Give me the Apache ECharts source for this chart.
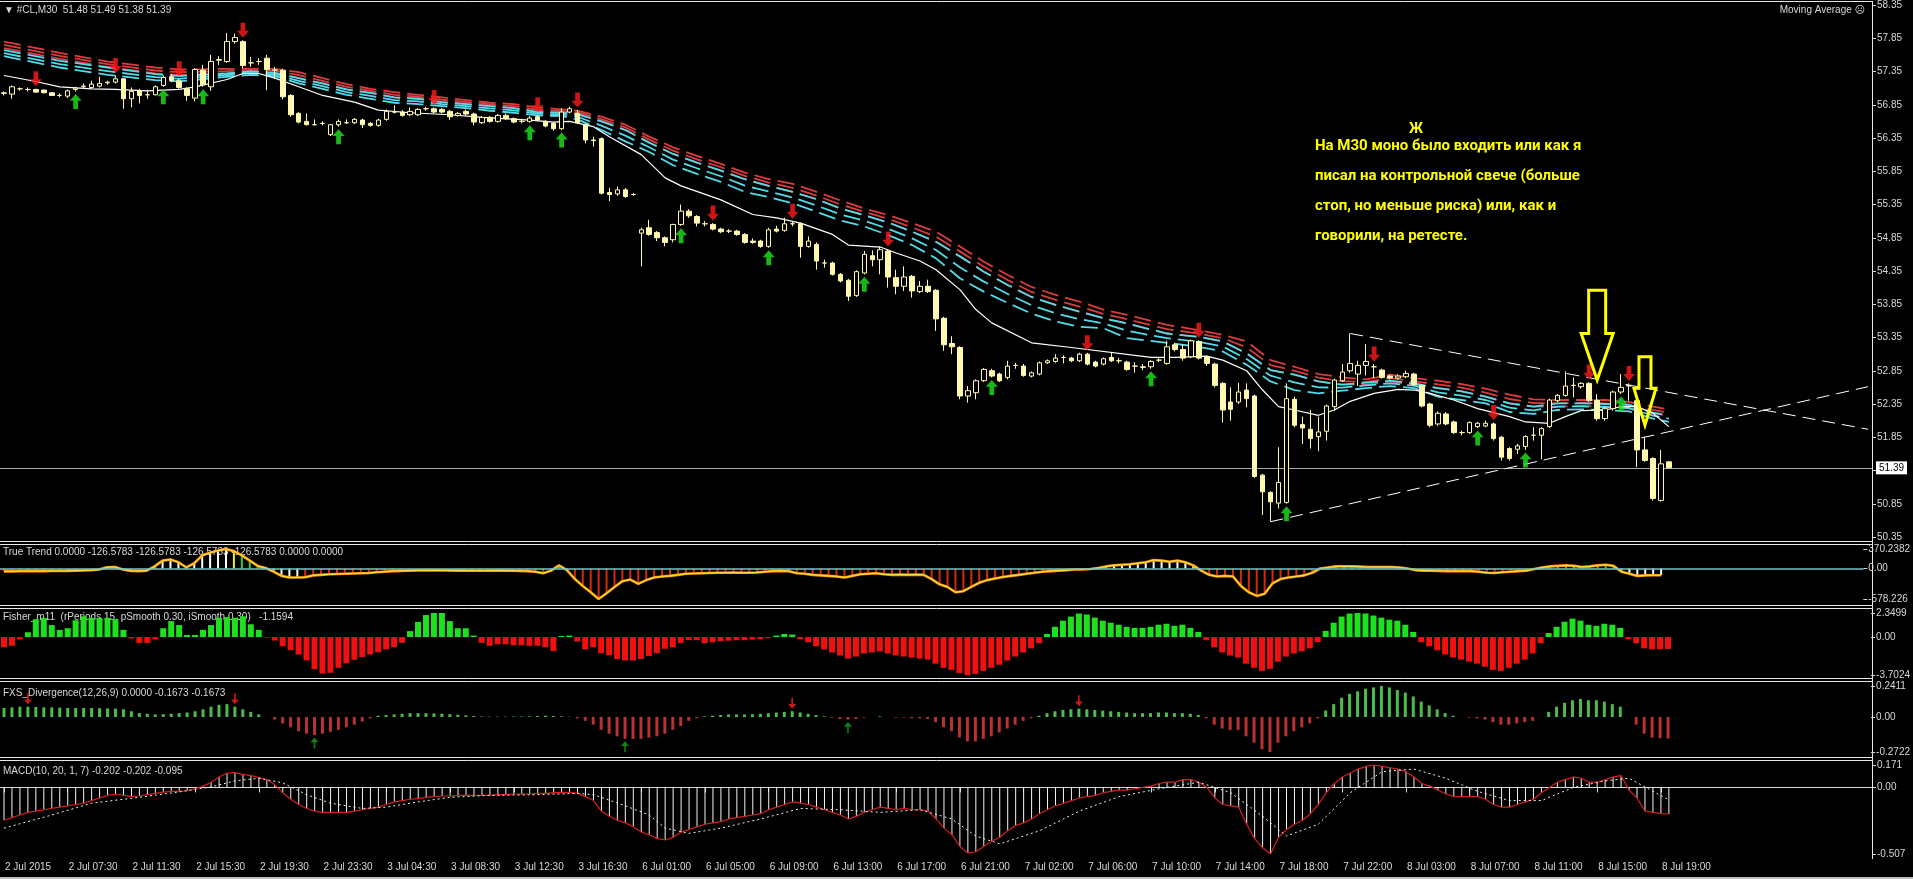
<!DOCTYPE html>
<html>
<head>
<meta charset="utf-8">
<title>#CL,M30</title>
<script src="https://cdn.jsdelivr.net/npm/echarts@6/dist/echarts.min.js"></script>
<style>
html,body{margin:0;padding:0;background:#000;overflow:hidden;}
#chart{width:1913px;height:879px;}
</style>
</head>
<body>
<div id="chart"></div>
<script>
// ---------------- DATA ----------------
const timeLabels = ['2 Jul 2015','2 Jul 07:30','2 Jul 11:30','2 Jul 15:30','2 Jul 19:30','2 Jul 23:30','3 Jul 04:30','3 Jul 08:30','3 Jul 12:30','3 Jul 16:30','6 Jul 01:00','6 Jul 05:00','6 Jul 09:00','6 Jul 13:00','6 Jul 17:00','6 Jul 21:00','7 Jul 02:00','7 Jul 06:00','7 Jul 10:00','7 Jul 14:00','7 Jul 18:00','7 Jul 22:00','8 Jul 03:00','8 Jul 07:00','8 Jul 11:00','8 Jul 15:00','8 Jul 19:00'];
const priceTickLabels = ['50.35','50.85','51.35','51.85','52.35','52.85','53.35','53.85','54.35','54.85','55.35','55.85','56.35','56.85','57.35','57.85','58.35'];

const openP = [
57.02,57.01,57.09,57.08,57.08,57.07,57.03,56.99,56.98,57.08,
57.12,57.11,57.13,57.18,57.19,57.24,56.94,57.06,57.00,57.00,
57.14,57.27,57.21,57.09,56.95,57.37,57.12,57.52,57.50,57.80,
57.80,57.48,57.50,57.55,57.37,57.37,56.99,56.72,56.60,56.55,
56.57,56.40,56.55,56.58,56.58,56.62,56.57,56.54,56.63,56.74,
56.74,56.70,56.70,56.79,56.79,56.78,56.75,56.69,56.75,56.71,
56.58,56.66,56.60,56.69,56.64,56.60,56.60,56.67,56.60,56.57,
56.49,56.74,56.72,56.55,56.32,56.34,55.53,55.51,55.57,55.50,
54.92,55.00,54.93,54.85,54.82,55.05,55.25,55.17,55.06,55.05,
54.98,54.95,54.95,54.90,54.80,54.80,54.72,54.98,54.96,55.06,
55.06,54.72,54.75,54.47,54.47,54.30,54.21,53.98,54.32,54.58,
54.52,54.65,54.25,54.12,54.27,54.04,54.12,54.06,53.64,53.26,
53.20,52.47,52.52,52.70,52.85,52.80,52.75,52.93,52.92,52.77,
52.80,52.97,52.99,53.05,53.04,53.00,53.10,52.98,52.95,53.05,
53.00,52.98,52.92,52.90,
52.91,53.01,52.96,53.24,53.17,53.06,53.29,
53.06,52.95,52.66,52.38,52.38,52.56,52.47,51.28,51.02,50.86,
50.87,52.42,52.04,51.97,51.86,51.94,52.31,52.70,52.85,52.80,
52.93,52.91,52.86,52.77,52.74,52.76,52.80,52.63,52.35,52.05,
52.20,52.08,51.92,51.92,52.01,52.02,52.05,51.85,51.68,51.67,
51.71,51.88,51.88,52.01,52.40,52.48,52.63,52.61,52.66,52.41,
52.13,52.28,52.53,52.62,52.40,51.66,51.53,50.90,51.48];
const highP = [
57.05,57.14,57.11,57.11,57.09,57.08,57.04,57.02,57.08,57.12,
57.17,57.21,57.27,57.21,57.29,57.25,57.11,57.09,57.07,57.14,
57.29,57.31,57.24,57.11,57.40,57.45,57.60,57.58,57.93,57.92,
57.82,57.57,57.55,57.60,57.42,57.39,57.01,56.74,56.72,56.63,
56.60,56.56,56.63,56.63,56.65,56.64,56.59,56.64,56.78,56.84,
56.77,56.81,56.80,56.82,56.81,56.80,56.77,56.74,56.78,56.73,
56.68,56.68,56.71,56.72,56.66,56.64,56.68,56.70,56.62,56.59,
56.80,56.82,56.77,56.57,56.37,56.36,55.60,55.62,55.60,55.52,
55.00,55.12,54.95,54.87,55.06,55.35,55.28,55.19,55.10,55.07,
55.00,54.98,54.97,54.92,54.84,54.82,55.00,55.03,55.15,55.10,
55.08,54.87,54.78,54.52,54.49,54.32,54.23,54.36,54.65,54.66,
54.72,54.68,54.37,54.42,54.29,54.20,54.22,54.08,53.66,53.37,
53.22,52.62,52.72,52.89,52.88,52.82,53.00,52.97,52.95,52.84,
52.99,53.02,53.10,53.08,53.06,53.12,53.12,53.00,53.05,53.12,
53.04,53.00,52.98,52.95,
53.01,53.04,53.30,53.27,53.25,53.32,53.31,
53.08,52.97,52.68,52.60,52.67,52.66,52.49,51.30,51.04,51.70,
52.66,52.46,52.16,52.26,52.16,52.34,52.73,52.95,53.41,53.00,
53.25,52.95,52.88,52.79,52.80,52.85,52.82,52.65,52.37,52.24,
52.23,52.10,51.95,52.09,52.08,52.10,52.07,51.87,51.70,51.75,
51.88,52.00,52.00,52.43,52.50,52.84,52.75,52.68,52.68,52.50,
52.31,52.55,52.80,52.66,52.42,51.86,51.55,51.66,51.49];
const lowP = [
56.99,56.94,57.06,57.05,57.03,57.02,56.98,56.96,56.95,57.05,
57.09,57.09,57.11,57.15,57.17,56.79,56.81,56.87,56.94,56.99,
57.12,57.19,57.09,56.91,56.90,57.12,57.06,57.45,57.48,57.77,
57.40,57.42,57.45,57.07,57.24,56.93,56.67,56.57,56.54,56.54,
56.54,56.38,56.52,56.56,56.56,56.50,56.52,56.52,56.61,56.72,
56.67,56.68,56.68,56.76,56.72,56.72,56.62,56.67,56.69,56.54,
56.56,56.58,56.58,56.62,56.57,56.57,56.58,56.60,56.51,56.46,
56.47,56.72,56.56,56.27,56.22,55.50,55.40,55.48,55.45,55.48,
54.42,54.88,54.80,54.72,54.78,55.03,55.15,55.02,55.02,54.96,
54.92,54.92,54.88,54.76,54.76,54.70,54.70,54.93,54.94,55.02,
54.55,54.70,54.37,54.40,54.28,54.18,53.90,53.96,54.30,54.42,
54.30,54.10,54.00,54.05,53.95,54.02,54.02,53.45,53.15,53.10,
52.42,52.37,52.42,52.68,52.75,52.68,52.72,52.88,52.76,52.75,
52.78,52.95,52.97,52.96,52.98,52.98,52.93,52.90,52.93,52.98,
52.96,52.85,52.82,52.86,
52.88,52.98,52.94,53.14,53.00,53.04,53.02,
52.92,52.60,52.07,52.10,52.35,52.30,51.24,50.68,50.58,50.78,
50.85,52.00,51.75,51.68,51.64,51.80,52.25,52.68,52.82,52.62,
52.78,52.74,52.73,52.72,52.72,52.74,52.62,52.30,52.00,52.02,
52.03,51.90,51.88,51.90,51.99,52.00,51.80,51.50,51.50,51.60,
51.66,51.80,51.52,51.99,52.38,52.46,52.45,52.58,52.38,52.10,
52.10,52.25,52.50,52.40,51.40,51.48,50.90,50.88,51.38];
const closeP = [
57.03,57.12,57.09,57.08,57.04,57.03,56.99,56.99,57.06,57.10,
57.13,57.16,57.17,57.19,57.24,56.94,57.05,56.99,57.00,57.12,
57.26,57.21,57.11,56.99,57.38,57.15,57.50,57.53,57.80,57.86,
57.44,57.48,57.50,57.38,57.37,56.97,56.70,56.59,56.55,56.55,
56.57,56.55,56.60,56.58,56.63,56.55,56.54,56.62,56.75,56.74,
56.69,56.75,56.78,56.79,56.74,56.74,56.67,56.72,56.71,56.59,
56.66,56.60,56.69,56.64,56.59,56.60,56.65,56.62,56.53,56.49,
56.74,56.79,56.58,56.32,56.31,55.52,55.50,55.57,55.47,55.50,
54.97,54.90,54.85,54.78,55.05,55.25,55.18,55.07,55.06,54.98,
54.94,54.95,54.90,54.78,54.78,54.72,54.97,54.95,55.06,55.06,
54.72,54.80,54.50,54.47,54.30,54.20,53.97,54.34,54.60,54.52,
54.67,54.26,54.12,54.26,54.05,54.12,54.04,53.63,53.24,53.21,
52.47,52.55,52.70,52.87,52.77,52.70,52.92,52.93,52.78,52.82,
52.97,53.00,53.04,53.05,53.00,53.10,52.95,52.92,53.03,53.00,
53.00,52.87,52.92,52.91,
52.99,53.01,53.21,53.17,53.04,53.30,53.04,
52.96,52.63,52.26,52.27,52.53,52.43,51.26,51.03,50.88,51.17,
52.43,52.03,51.99,51.83,51.93,52.32,52.71,52.83,52.96,52.93,
52.99,52.91,52.75,52.74,52.77,52.81,52.64,52.32,52.03,52.21,
52.05,51.92,51.92,52.07,52.06,52.06,51.83,51.55,51.53,51.72,
51.86,51.88,51.98,52.41,52.48,52.62,52.63,52.66,52.40,52.13,
52.28,52.53,52.60,52.63,51.66,51.50,50.93,51.45,51.39];

// fast moving average (white), read points [bar, price]
const maPoints = [[0,57.29],[4,57.2],[7,57.12],[11,57.09],[14,57.08],[18,57.06],[22,57.08],[24,57.12],[28,57.23],[30,57.32],[32,57.32],[34,57.25],[37,57.12],[40,56.99],[44,56.89],[47,56.77],[51,56.73],[56,56.70],[60,56.66],[66,56.62],[69,56.59],[71,56.6],[74,56.52],[76,56.37],[80,56.10],[83,55.75],[85,55.63],[90,55.42],[94,55.2],[97,55.15],[100,55.07],[104,54.9],[106,54.74],[110,54.71],[112,54.62],[115,54.5],[117,54.37],[120,54.07],[122,53.77],[124,53.57],[129,53.27],[134,53.2],[144,53.05],[147,53.05],[151,53.07],[153,53.01],[156,52.85],[158,52.56],[160,52.31],[162,52.26],[165,52.18],[167,52.26],[169,52.39],[172,52.51],[175,52.57],[177,52.56],[179,52.51],[182,52.41],[185,52.28],[189,52.16],[191,52.08],[194,52.06],[196,52.16],[198,52.25],[201,52.26],[203,52.31],[205,52.31],[207,52.21],[209,52.01]];

// moving-average ribbon (red group above, cyan group below), read per segment
const ribbonBars = [0,7,13,19,22,28,31,34,37,40,43,46,49,52,55,58,61,64,67,70,72,75,78,81,84,87,90,93,96,99,102,105,108,111,114,117,120,123,126,129,132,135,138,141,146,150,153,156,159,162,165,168,171,174,177,180,183,186,189,192,195,198,201,204,207,209];
const ribbonRedTop = [57.80,57.63,57.50,57.41,57.38,57.39,57.39,57.39,57.34,57.25,57.16,57.09,57.04,57.00,56.96,56.92,56.88,56.86,56.81,56.78,56.76,56.67,56.55,56.37,56.21,56.08,55.96,55.83,55.73,55.66,55.54,55.41,55.29,55.19,55.07,54.94,54.72,54.49,54.29,54.11,53.99,53.89,53.77,53.69,53.54,53.46,53.39,53.29,53.01,52.91,52.80,52.75,52.72,52.79,52.74,52.70,52.65,52.58,52.49,52.42,52.41,52.41,52.41,52.38,52.31,52.27];
const ribbonRedBot = [57.70,57.54,57.42,57.32,57.30,57.32,57.35,57.33,57.25,57.17,57.08,57.03,56.96,56.94,56.89,56.86,56.83,56.80,56.74,56.73,56.71,56.60,56.47,56.28,56.11,55.98,55.86,55.73,55.63,55.54,55.43,55.29,55.19,55.08,54.94,54.79,54.57,54.34,54.14,53.96,53.84,53.74,53.64,53.56,53.41,53.36,53.29,53.11,52.86,52.79,52.69,52.64,52.64,52.69,52.64,52.59,52.54,52.46,52.36,52.31,52.31,52.32,52.31,52.28,52.21,52.17];
const ribbonCyanTop = [57.67,57.51,57.41,57.31,57.28,57.32,57.35,57.33,57.25,57.17,57.08,57.03,56.96,56.94,56.89,56.86,56.83,56.80,56.74,56.73,56.71,56.60,56.47,56.28,56.11,55.98,55.86,55.73,55.63,55.54,55.43,55.29,55.19,55.08,54.94,54.79,54.57,54.34,54.14,53.96,53.84,53.74,53.64,53.56,53.41,53.36,53.29,53.11,52.86,52.79,52.69,52.64,52.67,52.70,52.66,52.59,52.54,52.46,52.36,52.31,52.36,52.36,52.35,52.34,52.22,52.18];
const ribbonCyanBot = [57.58,57.41,57.30,57.22,57.20,57.27,57.30,57.28,57.17,57.09,57.00,56.94,56.88,56.86,56.83,56.80,56.76,56.73,56.69,56.68,56.63,56.47,56.30,56.14,55.94,55.81,55.69,55.54,55.46,55.37,55.24,55.11,55.02,54.89,54.74,54.54,54.24,54.04,53.87,53.71,53.59,53.51,53.49,53.34,53.27,53.21,53.14,52.94,52.69,52.56,52.51,52.55,52.59,52.62,52.59,52.46,52.41,52.36,52.23,52.20,52.26,52.27,52.26,52.24,52.13,52.08];

const redArrowBars = [4,14,22,30,54,67,72,89,99,111,136,150,172,187,199,204];
const greenArrowBars = [9,20,25,42,66,70,85,96,108,124,144,161,185,191,203];

// hand drawn trend lines [[bar, price],[bar, price]]
const trendLines = [[[169,53.41],[234,51.97]], [[159,50.58],[234,52.61]]];
// hand drawn yellow arrows [bar, top price, tip price]
const yellowArrows = [[200,54.06,52.71],[206,53.06,52.03]];

const annotationLines = ['На М30 моно было входить или как я','писал на контрольной свече (больше','стоп, но меньше риска) или, как и','говорили, на ретесте.'];

// True Trend
const trueTrend = [
-55,-55,-52,-50,-50,-50,-48,-46,-44,-40,
-38,-30,-20,25,30,-20,-45,-50,-40,40,
150,170,120,20,100,250,300,340,370.2382,330,
250,150,50,10,-60,-140,-170,-170,-165,-130,
-120,-110,-105,-100,-95,-90,-85,-70,-60,-50,
-45,-40,-38,-35,-35,-35,-38,-40,-40,-42,
-42,-42,-40,-40,-42,-45,-50,-60,-90,-40,
60,-30,-200,-330,-450,-578.226,-470,-350,-240,-210,
-290,-220,-170,-150,-140,-120,-100,-95,-90,-85,
-80,-80,-78,-80,-80,-75,-60,-50,-45,-50,
-90,-100,-120,-130,-140,-150,-170,-140,-110,-100,
-90,-110,-120,-115,-120,-115,-120,-200,-300,-350,
-450,-430,-350,-270,-220,-190,-160,-140,-120,-100,
-80,-60,-50,-40,-30,-20,-20,-10,10,40,
60,70,80,100,120,160,150,130,150,120,
60,-40,-120,-150,-140,-150,-330,-450,-520,-480,
-280,-200,-170,-150,-130,-80,0,20,40,40,
40,35,30,30,30,30,20,0,-30,-40,
-40,-45,-50,-50,-50,-50,-60,-80,-85,-70,
-60,-50,-40,-10,20,40,50,60,50,30,
40,60,70,50,-60,-100,-140,-130,-128,-126.58];
const ttColorRuns = [['r',13],['g',2],['r',4],['w',4],['g',1],['w',5],['y',1],['g',4],['w',4],['r',31],['g',3],['r',66],['w',13],['r',15],['g',12],['r',15],['g',11],['w',6]];
const ttTickLabels = ['-578.226','0.00','370.2382'];

// Fisher
const fisher = [
-1.0,-0.85,-0.23,0.47,1.75,1.88,1.17,0.7,0.86,1.64,
2.03,1.88,1.88,1.88,1.75,0.7,-0.14,-0.57,-0.57,-0.23,
0.86,1.56,1.17,0.2,0.2,0.7,1.17,1.88,1.95,1.88,
2.03,1.25,0.7,-0.06,-0.34,-0.9,-1.28,-1.7,-2.28,-3.13,
-3.56,-3.48,-3.0,-2.56,-2.22,-1.94,-1.7,-1.48,-1.2,-1.0,
-0.57,0.58,1.48,2.15,2.35,2.35,1.56,0.86,0.86,0.15,
-0.57,-0.85,-0.7,-0.7,-0.8,-0.8,-0.85,-0.85,-1.0,-1.37,
0.1,0.15,-0.43,-1.2,-1.0,-1.57,-1.77,-2.14,-2.28,-2.28,
-2.14,-1.85,-1.57,-1.14,-1.0,-0.57,-0.3,-0.3,-0.6,-0.5,
-0.4,-0.35,-0.3,-0.3,-0.25,-0.2,-0.1,0.15,0.3,0.25,
-0.2,-0.5,-0.9,-1.2,-1.5,-1.8,-2.1,-1.9,-1.6,-1.5,
-1.4,-1.6,-1.8,-1.9,-2.0,-2.1,-2.2,-2.6,-3.0,-3.2,
-3.5,-3.7024,-3.6,-3.3,-3.0,-2.7,-2.3,-1.9,-1.5,-1.1,
-0.6,0.3,1.0,1.6,2.0,2.3,2.2,1.9,1.6,1.4,
1.2,1.0,0.9,0.9,1.0,1.2,1.3,1.1,1.2,0.9,
0.5,-0.3,-1.0,-1.5,-1.8,-2.0,-2.6,-3.0,-3.3,-3.1,
-2.4,-1.9,-1.6,-1.4,-1.1,-0.5,0.6,1.4,2.0,2.3,
2.3499,2.3,2.1,1.9,1.7,1.6,1.2,0.5,-0.5,-0.9,
-1.3,-1.7,-2.0,-2.2,-2.4,-2.6,-2.9,-3.2,-3.3,-3.0,
-2.6,-2.2,-1.6,-0.6,0.4,1.0,1.5,1.8,1.6,1.2,
1.1,1.3,1.2,0.9,-0.2,-0.6,-1.1,-1.2,-1.18,-1.1594];
const fisherTickLabels = ['-3.7024','0.00','2.3499'];

// FXS Divergence
const fxs = [
0.07,0.075,0.08,0.08,0.078,0.075,0.075,0.073,0.07,0.07,
0.07,0.07,0.068,0.067,0.065,0.06,0.045,0.03,0.025,0.02,
0.022,0.025,0.03,0.035,0.045,0.06,0.08,0.095,0.1,0.08,
0.06,0.04,0.02,0.0,-0.02,-0.05,-0.08,-0.11,-0.13,-0.14,
-0.13,-0.115,-0.1,-0.08,-0.06,-0.035,-0.01,0.01,0.015,0.02,
0.025,0.03,0.03,0.03,0.028,0.026,0.022,0.018,0.012,0.008,
0.004,0.003,0.003,0.003,0.004,0.004,0.005,0.008,0.01,0.008,
0.005,0.002,-0.01,-0.03,-0.06,-0.1,-0.13,-0.15,-0.17,-0.17,
-0.17,-0.16,-0.15,-0.13,-0.1,-0.07,-0.03,-0.01,0.005,0.01,
0.015,0.02,0.02,0.02,0.022,0.025,0.03,0.035,0.04,0.045,
0.035,0.025,0.015,0.005,-0.005,-0.015,-0.02,-0.015,-0.005,0.0,
0.005,0.0,-0.005,-0.005,-0.01,-0.01,-0.015,-0.04,-0.08,-0.11,
-0.16,-0.19,-0.19,-0.17,-0.15,-0.12,-0.09,-0.06,-0.03,-0.01,
0.01,0.03,0.045,0.055,0.06,0.065,0.06,0.055,0.05,0.045,
0.04,0.035,0.03,0.03,0.03,0.035,0.035,0.03,0.03,0.025,
0.015,-0.01,-0.06,-0.09,-0.1,-0.1,-0.15,-0.2,-0.25,-0.2722,
-0.2,-0.15,-0.11,-0.08,-0.05,-0.01,0.05,0.1,0.15,0.18,
0.2,0.22,0.23,0.2411,0.23,0.21,0.19,0.16,0.12,0.09,
0.06,0.03,0.01,0.0,-0.005,-0.01,-0.02,-0.04,-0.06,-0.06,
-0.05,-0.04,-0.03,0.0,0.04,0.08,0.11,0.13,0.14,0.13,
0.13,0.12,0.1,0.08,0.0,-0.06,-0.13,-0.16,-0.165,-0.1673];
const fxsTickLabels = ['-0.2722','0.00','0.2411'];
const fxsRedArrowBars = [3,29,99,135];
const fxsGreenArrowBars = [39,78,106];

// MACD
const macd = [
-0.25,-0.23,-0.21,-0.19,-0.18,-0.17,-0.16,-0.15,-0.14,-0.13,
-0.12,-0.10,-0.08,-0.06,-0.05,-0.06,-0.07,-0.065,-0.055,-0.045,
-0.035,-0.03,-0.03,-0.025,-0.01,0.01,0.04,0.08,0.11,0.113,
0.10,0.09,0.075,0.06,0.02,-0.04,-0.09,-0.13,-0.16,-0.18,
-0.19,-0.19,-0.19,-0.19,-0.18,-0.17,-0.16,-0.15,-0.13,-0.11,
-0.10,-0.09,-0.085,-0.075,-0.07,-0.065,-0.065,-0.06,-0.06,-0.06,
-0.06,-0.06,-0.055,-0.055,-0.05,-0.05,-0.05,-0.045,-0.045,-0.04,
-0.037,-0.037,-0.045,-0.07,-0.10,-0.18,-0.22,-0.25,-0.27,-0.30,
-0.34,-0.36,-0.39,-0.40,-0.38,-0.34,-0.32,-0.30,-0.28,-0.27,
-0.26,-0.24,-0.23,-0.22,-0.21,-0.20,-0.17,-0.15,-0.13,-0.11,
-0.12,-0.13,-0.15,-0.17,-0.19,-0.21,-0.24,-0.22,-0.19,-0.17,
-0.15,-0.16,-0.17,-0.16,-0.17,-0.17,-0.18,-0.24,-0.31,-0.36,
-0.45,-0.50,-0.49,-0.45,-0.41,-0.38,-0.33,-0.29,-0.27,-0.24,
-0.20,-0.17,-0.14,-0.12,-0.10,-0.08,-0.07,-0.06,-0.04,-0.03,
-0.02,-0.02,-0.01,0.0,0.01,0.03,0.04,0.04,0.06,0.06,
0.04,0.0,-0.08,-0.13,-0.14,-0.15,-0.28,-0.39,-0.46,-0.507,
-0.38,-0.32,-0.28,-0.25,-0.20,-0.13,-0.04,0.03,0.08,0.11,
0.14,0.16,0.171,0.16,0.15,0.14,0.12,0.08,0.03,0.01,
-0.02,-0.05,-0.07,-0.07,-0.07,-0.07,-0.09,-0.13,-0.15,-0.15,
-0.13,-0.11,-0.09,-0.04,0.0,0.04,0.06,0.08,0.07,0.04,
0.04,0.06,0.08,0.09,-0.02,-0.08,-0.18,-0.19,-0.20,-0.202];
const macdSignalPoints = [[0,-0.31],[6,-0.21],[11,-0.12],[17,-0.075],[22,-0.034],[26,0.004],[29,0.05],[32,0.07],[35,0.035],[38,-0.055],[41,-0.12],[45,-0.16],[48,-0.15],[52,-0.11],[56,-0.075],[61,-0.06],[67,-0.055],[72,-0.045],[74,-0.055],[78,-0.14],[81,-0.21],[83,-0.31],[86,-0.35],[90,-0.31],[95,-0.24],[100,-0.16],[105,-0.17],[110,-0.19],[115,-0.17],[119,-0.24],[122,-0.37],[125,-0.43],[130,-0.33],[135,-0.18],[140,-0.07],[145,-0.01],[150,0.04],[154,-0.04],[158,-0.22],[161,-0.37],[165,-0.28],[169,-0.04],[173,0.12],[177,0.14],[181,0.07],[185,-0.03],[189,-0.1],[193,-0.1],[197,0.0],[201,0.05],[204,0.07],[209,-0.095]];
const macdTickLabels = ['-0.507','0.00','0.171'];

// ---------------- STYLE / LAYOUT ----------------
const SLOTS = 235;
const slots = Array.from({length: SLOTS}, (_, i) => String(i));
const FONT = '"Liberation Sans", "DejaVu Sans", sans-serif';
const AX = '#d8d8d8';
const CANDLE = '#fff8b0';
const RIB_RED = '#dc3c3c';
const RIB_CYAN = '#50dcec';
const DOWN_ARROW = 'path://M3,0 H7 V7 H10 L5,13 L0,7 H3 Z';
const UP_ARROW = 'path://M5,0 L10,6 H7 V13 H3 V6 H0 Z';
const THIN_DOWN = 'path://M4,0 H6 V8 H10 L5,14 L0,8 H4 Z';
const THIN_UP = 'path://M5,0 L10,6 H6 V14 H4 V6 H0 Z';
const TT_COLORS = {r:'#d42a0a', g:'#3cc83c', w:'#ffffff', y:'#e8e830'};
const ttCodes = [];
ttColorRuns.forEach(([c, n]) => { for (let k = 0; k < n; k++) ttCodes.push(c); });

const grids = [
  {left:-4, right:41, top:5,   height:532},
  {left:-4, right:41, top:549, height:50},
  {left:-4, right:41, top:613, height:62},
  {left:-4, right:41, top:686, height:66},
  {left:-4, right:41, top:765, height:89}
];

function xAx(i) {
  const shown = i === 4;
  const every8 = idx => idx % 8 === 0 && idx / 8 < timeLabels.length;
  return {
    type:'category', gridIndex:i, data:slots, boundaryGap:true, show:shown, offset: shown ? 5 : 0,
    axisLine:{show:shown, lineStyle:{color:AX, width:1}},
    axisTick:{show:shown, interval:every8, alignWithLabel:true, length:5, lineStyle:{color:AX}},
    axisLabel:{show:shown, interval:every8, align:'left', margin:3, padding:[0,0,0,1],
      color:AX, fontSize:10, fontFamily:FONT,
      formatter:(v, idx) => timeLabels[idx / 8] || ''},
    splitLine:{show:false}
  };
}
function subAx(gi, labels, min, max) {
  return {
    type:'value', gridIndex:gi, position:'right', min:min, max:max, interval:-min,
    axisLine:{show:false}, splitLine:{show:false},
    axisTick:{show:true, length:4, lineStyle:{color:AX}},
    axisLabel:{color:AX, fontSize:10, fontFamily:FONT, margin:5,
      formatter: v => Math.abs(v - min) < 1e-9 ? labels[0] : (Math.abs(v) < 1e-9 ? labels[1] : labels[2])}
  };
}

const ribbonSeries = [];
const mid = (a, b) => a.map((v, k) => (v + b[k]) / 2);
[[ribbonRedTop, RIB_RED], [mid(ribbonRedTop, ribbonRedBot), RIB_RED], [ribbonRedBot, RIB_RED],
 [ribbonCyanTop, RIB_CYAN], [mid(ribbonCyanTop, ribbonCyanBot), RIB_CYAN], [ribbonCyanBot, RIB_CYAN]]
.forEach(([arr, col], k) => {
  ribbonSeries.push({
    type:'line', xAxisIndex:0, yAxisIndex:0, silent:true, symbol:'none', z: k < 3 ? 2 : 3,
    data: ribbonBars.map((b, j) => [b, arr[j]]),
    lineStyle:{color:col, width:1.8, type:[17,7], cap:'butt'}
  });
});

const yellowArrowStyle = [{shaft:17, head:32, neck:0.48}, {shaft:12, head:22, neck:0.46}];

const lastClose = closeP[closeP.length - 1];

const option = {
  backgroundColor:'#000',
  animation:false,
  grid: grids,
  xAxis: [0,1,2,3,4].map(xAx),
  yAxis: [
    {type:'value', gridIndex:0, min:50.35, max:58.35, show:false, splitLine:{show:false}},
    {type:'value', gridIndex:0, position:'right', min:0, max:priceTickLabels.length - 1, interval:1,
      axisLine:{show:false}, splitLine:{show:false},
      axisTick:{show:true, length:4, lineStyle:{color:AX}},
      axisLabel:{color:AX, fontSize:10, fontFamily:FONT, margin:5, formatter: v => priceTickLabels[v]}},
    subAx(1, ttTickLabels, -578.226, 370.2382),
    subAx(2, fisherTickLabels, -3.7024, 2.3499),
    subAx(3, fxsTickLabels, -0.2722, 0.2411),
    subAx(4, macdTickLabels, -0.507, 0.171)
  ],
  series: [
    ...ribbonSeries,
    {type:'line', xAxisIndex:0, yAxisIndex:0, silent:true, symbol:'none', z:4, data:maPoints,
      lineStyle:{color:'#ffffff', width:1.2}},
    {type:'candlestick', xAxisIndex:0, yAxisIndex:0, z:5, barWidth:5,
      data: openP.map((o, i) => [o, closeP[i], lowP[i], highP[i]]),
      itemStyle:{color:'#000', color0:CANDLE, borderColor:CANDLE, borderColor0:CANDLE, borderWidth:1},
      markLine:{silent:true, symbol:['none','none'], precision:2,
        lineStyle:{color:'#a8a8a8', width:1, type:'solid'},
        label:{show:true, position:'end', distance:4, formatter: lastClose.toFixed(2),
          backgroundColor:'#ffffff', color:'#000', fontSize:10, fontFamily:FONT, padding:[2,3,1,3]},
        data:[{yAxis:lastClose}]}},
    ...trendLines.map(tl => ({type:'line', xAxisIndex:0, yAxisIndex:0, silent:true, symbol:'none', z:6,
      data:tl, lineStyle:{color:'#ffffff', width:1, type:[13,7]}})),
    {type:'scatter', xAxisIndex:0, yAxisIndex:0, z:7, silent:true, symbol:DOWN_ARROW, symbolSize:[12,15],
      symbolOffset:[0,-10], itemStyle:{color:'#ff1a1a'}, data: redArrowBars.map(b => [b, highP[b]])},
    {type:'scatter', xAxisIndex:0, yAxisIndex:0, z:7, silent:true, symbol:UP_ARROW, symbolSize:[12,15],
      symbolOffset:[0,10], itemStyle:{color:'#1ee61e'}, data: greenArrowBars.map(b => [b, lowP[b]])},
    {type:'custom', xAxisIndex:0, yAxisIndex:0, z:9, silent:true, data:yellowArrows,
      renderItem:(params, api) => {
        const st = yellowArrowStyle[params.dataIndex];
        const top = api.coord([api.value(0), api.value(1)]);
        const tip = api.coord([api.value(0), api.value(2)]);
        const x = top[0], y0 = top[1], y1 = tip[1];
        const yn = y0 + (y1 - y0) * st.neck;
        const s = st.shaft / 2, h = st.head / 2;
        return {type:'polygon', shape:{points:[[x-s,y0],[x+s,y0],[x+s,yn],[x+h,yn],[x,y1],[x-h,yn],[x-s,yn]]},
          style:{fill:'none', stroke:'#ffff00', lineWidth:3}};
      }},
    // True Trend
    {type:'bar', xAxisIndex:1, yAxisIndex:2, barWidth:2, silent:true, data:trueTrend,
      itemStyle:{color: p => TT_COLORS[ttCodes[p.dataIndex]]},
      markLine:{silent:true, symbol:['none','none'], label:{show:false},
        lineStyle:{color:'#72c4c4', width:1.5, type:'solid'}, data:[{yAxis:0}]}},
    {type:'line', xAxisIndex:1, yAxisIndex:2, silent:true, symbol:'none', data:trueTrend, z:3,
      lineStyle:{color:'#ff9a00', width:2.6}},
    {type:'line', xAxisIndex:1, yAxisIndex:2, silent:true, symbol:'none', data:trueTrend, z:4,
      lineStyle:{color:'#ffe64d', width:1}},
    // Fisher
    {type:'bar', xAxisIndex:2, yAxisIndex:3, barWidth:6, silent:true, data:fisher,
      itemStyle:{color: p => p.value >= 0 ? '#1fe01f' : '#f01010'}},
    // FXS
    {type:'bar', xAxisIndex:3, yAxisIndex:4, barWidth:3, silent:true, data:fxs,
      itemStyle:{color: p => p.value >= 0 ? '#4cbb4c' : '#b83232'}},
    {type:'scatter', xAxisIndex:3, yAxisIndex:4, silent:true, symbol:THIN_DOWN, symbolSize:[8,11],
      symbolOffset:[0,-8], itemStyle:{color:'#ff2020'}, data: fxsRedArrowBars.map(b => [b, Math.max(fxs[b], 0)])},
    {type:'scatter', xAxisIndex:3, yAxisIndex:4, silent:true, symbol:THIN_UP, symbolSize:[8,11],
      symbolOffset:[0,8], itemStyle:{color:'#16a316'}, data: fxsGreenArrowBars.map(b => [b, Math.min(fxs[b], 0)])},
    // MACD
    {type:'bar', xAxisIndex:4, yAxisIndex:5, barWidth:1, silent:true, data:macd, itemStyle:{color:'#f4f4f4'}},
    {type:'line', xAxisIndex:4, yAxisIndex:5, silent:true, symbol:'none', data:macd, z:3,
      lineStyle:{color:'#d42020', width:1.2}},
    {type:'line', xAxisIndex:4, yAxisIndex:5, silent:true, symbol:'none', data:macdSignalPoints, z:4,
      lineStyle:{color:'#f0f0f0', width:1, type:[2,3]}}
  ],
  graphic: [
    {type:'line', silent:true, shape:{x1:0, y1:1.5, x2:1873, y2:1.5}, style:{stroke:'#e8e8e8', lineWidth:1}},
    {type:'line', silent:true, shape:{x1:1872.5, y1:1, x2:1872.5, y2:859}, style:{stroke:'#e8e8e8', lineWidth:1}},
    ...[541.5,544.5,605.5,608.5,678.5,681.5,757.5,760.5].map(y => ({type:'line', silent:true,
      shape:{x1:0, y1:y, x2:1873, y2:y}, style:{stroke:'#e8e8e8', lineWidth:1}})),
    {type:'rect', silent:true, shape:{x:0, y:877, width:1913, height:2}, style:{fill:'#bdbdbd'}},
    {type:'text', silent:true, left:4, top:5, style:{text:'▼ #CL,M30  51.48 51.49 51.38 51.39', fill:AX, font:'10px ' + FONT}},
    {type:'text', silent:true, right:48, top:5, style:{text:'Moving Average ☹', fill:AX, font:'10px ' + FONT}},
    {type:'text', silent:true, left:3, top:547, style:{text:'True Trend 0.0000 -126.5783 -126.5783 -126.5783 -126.5783 0.0000 0.0000', fill:AX, font:'10px ' + FONT}},
    {type:'text', silent:true, left:3, top:612, style:{text:'Fisher_m11  (rPeriods 15, pSmooth 0.30, iSmooth 0.30)   -1.1594', fill:AX, font:'10px ' + FONT}},
    {type:'text', silent:true, left:3, top:688, style:{text:'FXS_Divergence(12,26,9) 0.0000 -0.1673 -0.1673', fill:AX, font:'10px ' + FONT}},
    {type:'text', silent:true, left:3, top:766, style:{text:'MACD(10, 20, 1, 7) -0.202 -0.202 -0.095', fill:AX, font:'10px ' + FONT}},
    {type:'text', silent:true, left:1409, top:122, style:{text:'Ж', fill:'#ffff00', font:'bold 14px Roboto, "Noto Sans", sans-serif'}},
    {type:'text', silent:true, left:1315, top:131, style:{text:annotationLines.join('\n'), fill:'#ffff00',
      font:'bold 15px Roboto, "Noto Sans", sans-serif', lineHeight:30}}
  ]
};

const chart = echarts.init(document.getElementById('chart'), null, {renderer:'canvas'});
chart.setOption(option);
</script>
</body>
</html>
